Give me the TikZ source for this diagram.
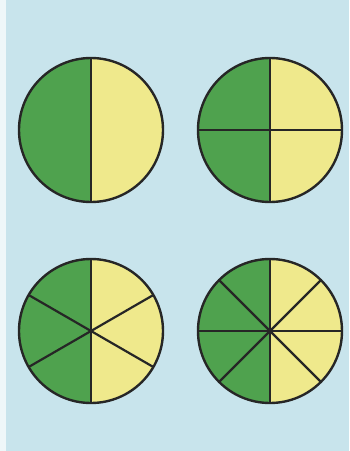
\documentclass[tikz,border=0pt]{standalone}
\begin{document}
\begin{tikzpicture}[x=1pt,y=-1pt,
  pie/.style={line width=2.4pt,draw=black!85},
  spoke/.style={line width=2.2pt,draw=black!85}]
\definecolor{bgblue}{HTML}{C8E4EC}
\definecolor{leaf}{HTML}{4FA24E}
\definecolor{lemon}{HTML}{EFE98C}
\fill[bgblue] (0,0) rectangle (349,451);
\fill[white!70!bgblue] (0,0) rectangle (6,451);
\useasboundingbox (0,0) rectangle (349,451);
\def\R{72}
\foreach \cx/\cy/\n in {91/130/2, 270/130/4, 91/331/6, 270/331/8}{
  \begin{scope}[shift={(\cx,\cy)}]
    \fill[lemon] (0,0) circle (\R);
    \fill[leaf] (0,-\R) arc[start angle=-90,end angle=-270,radius=\R] -- cycle;
    \pgfmathtruncatemacro{\half}{\n/2}
    \foreach \k in {1,...,\half}{
      \pgfmathsetmacro{\ang}{90+180*(\k-1)/\half}
      \draw[spoke] ({\R*cos(\ang)},{\R*sin(\ang)}) -- ({-\R*cos(\ang)},{-\R*sin(\ang)});
    }
    \draw[pie] (0,0) circle (\R);
  \end{scope}
}
\end{tikzpicture}
\end{document}
